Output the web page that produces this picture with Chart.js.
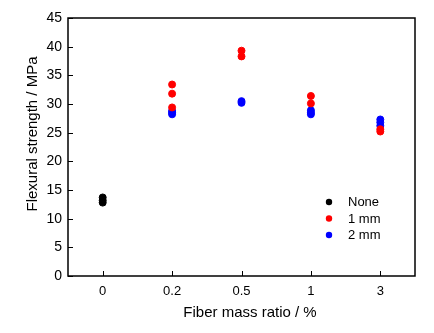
<!DOCTYPE html>
<html>
<head>
<meta charset="utf-8">
<script src="https://cdn.jsdelivr.net/npm/chart.js@4.4.1/dist/chart.umd.min.js"></script>
<style>
  html, body { margin: 0; padding: 0; background: #fff; }
  #wrap { width: 434px; height: 333px; }
</style>
</head>
<body>
<div id="wrap"><canvas id="myChart" width="434" height="333"></canvas></div>
<script>
// Fiber mass ratio categories along the x-axis
var categories = ['0', '0.2', '0.5', '1', '3'];
var yTicks = [0, 5, 10, 15, 20, 25, 30, 35, 40, 45];

// Flexural strength (MPa) for each specimen, one inner list per category
var noneValues = [[13.7, 13.2, 12.8], [], [], [], []];
var oneMmValues = [[], [33.4, 31.8, 29.4], [39.3, 38.3], [31.4, 30.1], [25.2, 25.6]];
var twoMmValues = [[], [28.8, 28.5, 28.2], [30.5, 30.2], [28.9, 28.5, 28.2], [27.3, 26.8, 26.2]];

var seriesLabels = ['None', '1 mm', '2 mm'];
var seriesColors = ['#000000', '#ff0000', '#0000ff'];
var xTitle = 'Fiber mass ratio / %';
var yTitle = 'Flexural strength / MPa';

function toPoints(values) {
  var pts = [];
  for (var i = 0; i < categories.length; i++) {
    for (var j = 0; j < values[i].length; j++) {
      pts.push({ x: categories[i], y: values[i][j] });
    }
  }
  return pts;
}

var allValues = [noneValues, oneMmValues, twoMmValues];
var datasets = [];
for (var s = 0; s < allValues.length; s++) {
  datasets.push({
    label: seriesLabels[s],
    data: toPoints(allValues[s]),
    backgroundColor: seriesColors[s],
    borderColor: seriesColors[s],
    pointRadius: 3.5,
    pointHoverRadius: 3.5,
    showLine: false
  });
}

var FONT = '"Liberation Sans", Arial, sans-serif';

// draws the frame, the inward tick marks, axis titles and the legend
var framePlugin = {
  id: 'frame',
  afterDraw: function(chart) {
    var ctx = chart.ctx;
    var a = chart.chartArea;
    ctx.save();
    ctx.strokeStyle = '#000';
    ctx.lineWidth = 1.5;
    ctx.strokeRect(a.left, a.top, a.right - a.left, a.bottom - a.top);
    ctx.lineWidth = 1;
    ctx.beginPath();
    var ys = chart.scales.y;
    ys.ticks.forEach(function(t) {
      var py = Math.round(ys.getPixelForValue(t.value)) + 0.5;
      ctx.moveTo(a.left, py);
      ctx.lineTo(a.left + 5, py);
    });
    var xs = chart.scales.x;
    for (var i = 0; i < categories.length; i++) {
      var px = Math.round(xs.getPixelForValue(i)) + 0.5;
      ctx.moveTo(px, a.bottom);
      ctx.lineTo(px, a.bottom - 5);
    }
    ctx.stroke();

    // axis titles
    ctx.fillStyle = '#000';
    ctx.textAlign = 'center';
    ctx.textBaseline = 'middle';
    ctx.font = '15px ' + FONT;
    ctx.fillText(xTitle, 250, 313);
    ctx.save();
    ctx.translate(33, 134);
    ctx.rotate(-Math.PI / 2);
    ctx.font = '15px ' + FONT;
    ctx.fillText(yTitle, 0, 0);
    ctx.restore();

    // legend
    ctx.font = '13px ' + FONT;
    ctx.textAlign = 'left';
    for (var k = 0; k < seriesLabels.length; k++) {
      var ly = 202 + k * 16.5;
      ctx.fillStyle = seriesColors[k];
      ctx.beginPath();
      ctx.arc(329, ly, 3.2, 0, Math.PI * 2);
      ctx.fill();
      ctx.fillStyle = '#000';
      ctx.fillText(seriesLabels[k], 348, ly + 0.5);
    }
    ctx.restore();
  }
};

var ctx = document.getElementById('myChart');
var myChart = new Chart(ctx, {
  type: 'scatter',
  data: { labels: categories, datasets: datasets },
  options: {
    responsive: false,
    animation: false,
    layout: { padding: { left: 0, right: 19, top: 18, bottom: 0 } },
    plugins: { legend: { display: false }, tooltip: { enabled: false } },
    scales: {
      x: {
        type: 'category',
        labels: categories,
        offset: true,
        grid: { display: false, drawTicks: false },
        border: { display: false },
        ticks: { color: '#000', font: { family: FONT, size: 13 }, padding: 8 },
        afterFit: function(scale) { scale.height = 57; }
      },
      y: {
        min: 0,
        max: 45,
        afterBuildTicks: function(scale) {
          scale.ticks = yTicks.map(function(v) { return { value: v }; });
        },
        grid: { display: false, drawTicks: false },
        border: { display: false },
        ticks: { color: '#000', font: { family: FONT, size: 14 }, padding: 6 },
        afterFit: function(scale) { scale.width = 68; }
      }
    }
  },
  plugins: [framePlugin]
});
</script>
</body>
</html>
